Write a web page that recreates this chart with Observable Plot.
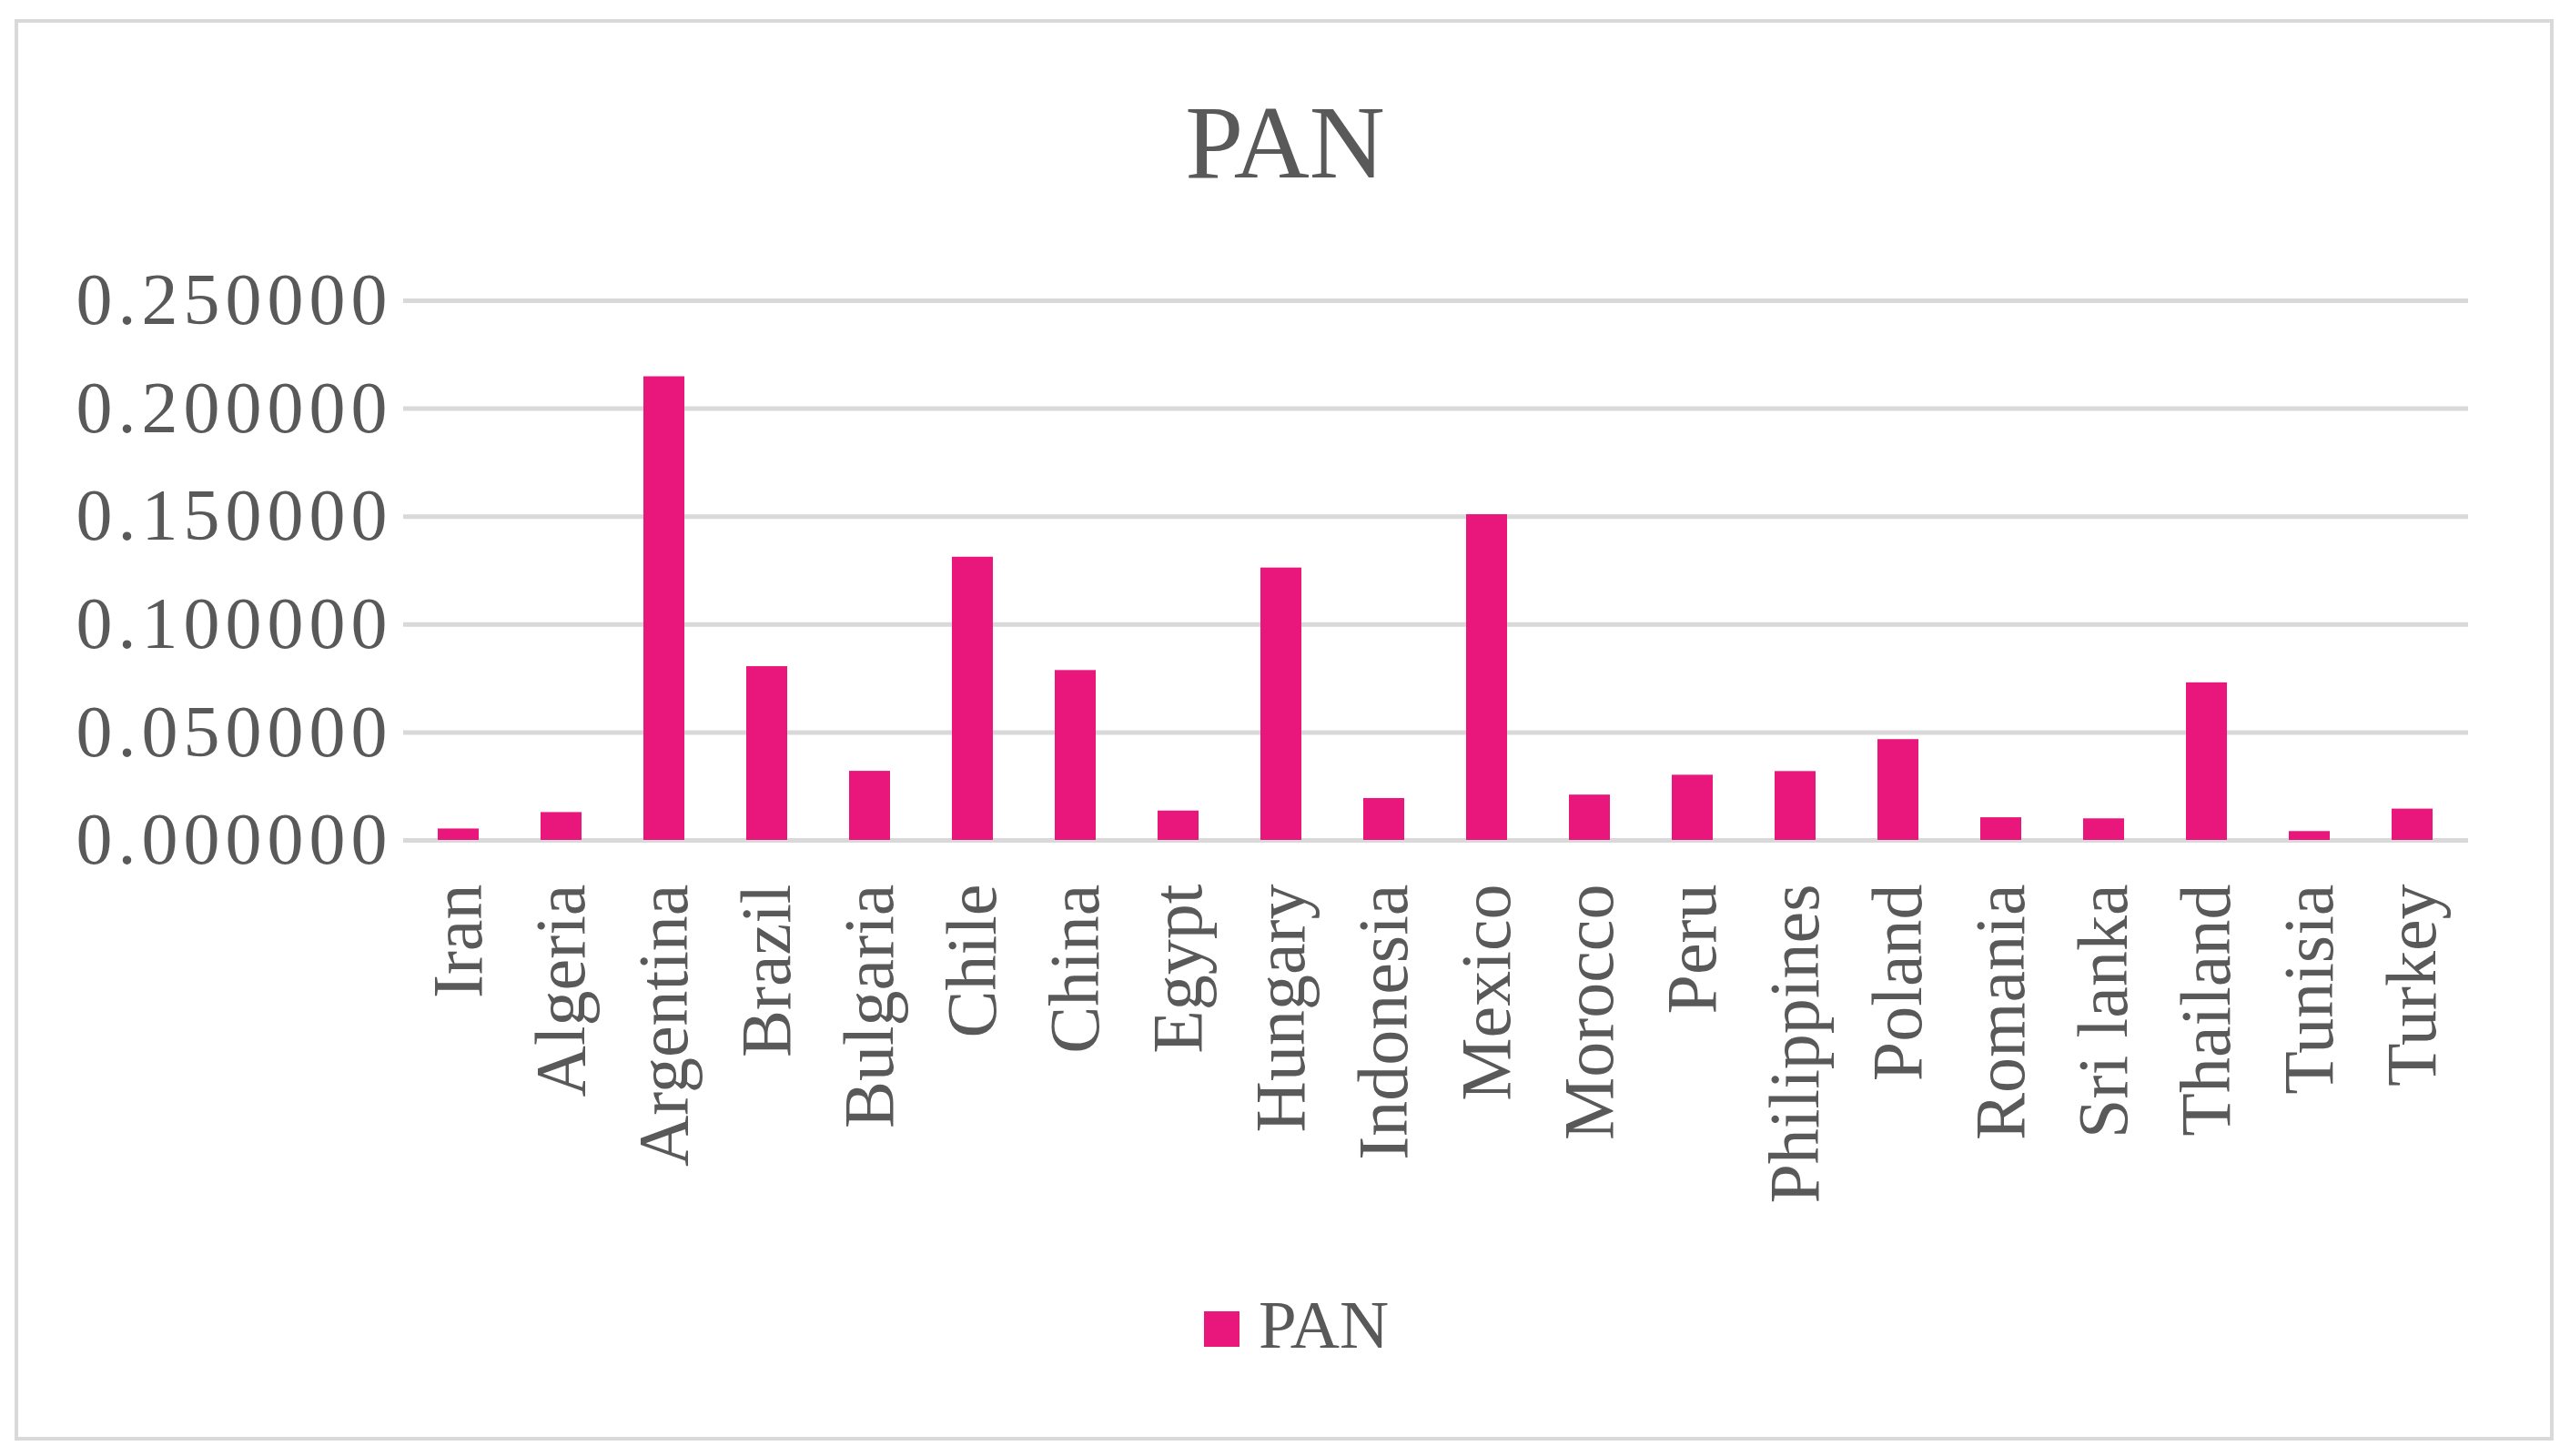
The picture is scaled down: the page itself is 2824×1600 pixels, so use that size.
<!DOCTYPE html>
<html>
<head>
<meta charset="utf-8">
<script src="https://cdn.jsdelivr.net/npm/d3@7"></script>
<script src="https://cdn.jsdelivr.net/npm/@observablehq/plot@0.6"></script>
<style>
  html, body { margin: 0; padding: 0; background: #ffffff; overflow: hidden; }
  #wrap { position: relative; width: 2824px; height: 1600px; background: #ffffff; font-family: "Liberation Serif", "DejaVu Serif", serif; color: #595959; }
  #frame { position: absolute; left: 16px; top: 21px; width: 2782px; height: 1554px; border: 4px solid #d9d9d9; box-sizing: content-box; }
  #title { position: absolute; left: 0; width: 2824px; top: 99px; text-align: center; font-size: 115px; line-height: 1; white-space: nowrap; }
  #chart { position: absolute; left: 0; top: 0; }
  #legend-swatch { position: absolute; left: 1323px; top: 1441px; width: 39px; height: 39px; }
  #legend-label { position: absolute; left: 1383px; top: 1418px; font-size: 75px; line-height: 1; white-space: nowrap; }
</style>
</head>
<body>
<div id="wrap">
  <div id="frame"></div>
  <div id="chart"></div>
  <div id="title"></div>
  <div id="legend-swatch"></div>
  <div id="legend-label"></div>
</div>
<script>
// ---- data ----
const chartTitle = "PAN";
const seriesName = "PAN";
const countries = ["Iran", "Algeria", "Argentina", "Brazil", "Bulgaria", "Chile", "China", "Egypt", "Hungary", "Indonesia", "Mexico", "Morocco", "Peru", "Philippines", "Poland", "Romania", "Sri lanka", "Thailand", "Tunisia", "Turkey"];
const values = [0.0053, 0.0129, 0.2148, 0.0805, 0.0320, 0.1312, 0.0787, 0.0136, 0.1262, 0.0194, 0.1509, 0.0210, 0.0302, 0.0319, 0.0467, 0.0105, 0.0100, 0.0730, 0.0041, 0.0145];
const yTicks = [0, 0.05, 0.10, 0.15, 0.20, 0.25];
const barColor = "#E9177B";

const data = countries.map((c, i) => ({country: c, value: values[i]}));

const plot = Plot.plot({
  width: 2824,
  height: 1600,
  marginLeft: 443,
  marginRight: 112,
  marginTop: 330,
  marginBottom: 677,
  style: {fontFamily: "'Liberation Serif', 'DejaVu Serif', serif", color: "#595959", background: "none", overflow: "visible"},
  x: {domain: countries, paddingInner: 0.6, paddingOuter: 0.3, align: 0.5, label: null},
  y: {domain: [0, 0.25], label: null},
  marks: [
    Plot.gridY({ticks: yTicks, stroke: "#d9d9d9", strokeOpacity: 1, strokeWidth: 5}),
    Plot.barY(data, {x: "country", y: "value", fill: barColor}),
    Plot.axisY({ticks: yTicks, tickSize: 0, tickPadding: 12, tickFormat: d3.format(".6f"), fontSize: 80, label: null}),
    Plot.axisX({tickSize: 0, tickRotate: -90, tickPadding: 48, fontSize: 78, label: null})
  ]
});
d3.select(plot).selectAll('g[aria-label="y-axis tick label"] text').style("letter-spacing", "6px");
document.getElementById("chart").appendChild(plot);
document.getElementById("title").textContent = chartTitle;
document.getElementById("legend-swatch").style.background = barColor;
document.getElementById("legend-label").textContent = seriesName;
</script>
</body>
</html>
